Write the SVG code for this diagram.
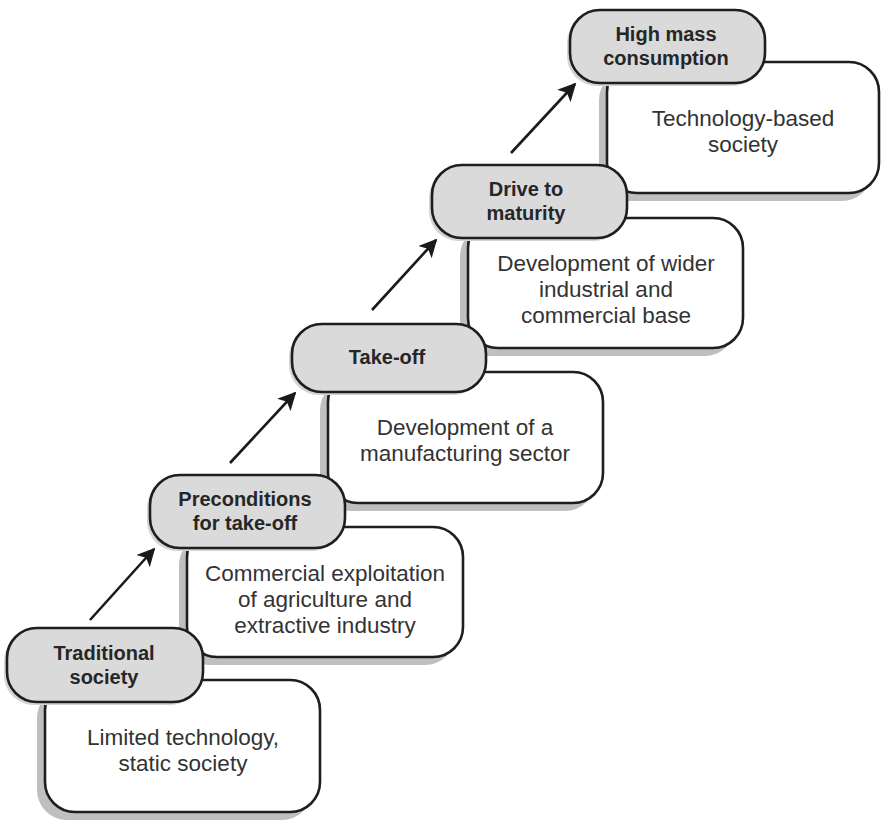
<svg xmlns="http://www.w3.org/2000/svg" width="881" height="820" viewBox="0 0 881 820">
  <style>
    .hdr { fill: #dadada; stroke: #1e1e1e; stroke-width: 2.6; }
    .hdr-sh { fill: #d4d4d4; }
    .desc { fill: #ffffff; stroke: #1e1e1e; stroke-width: 2.6; }
    .desc-sh { fill: #bfbfbf; }
    .ht { font-family: "Liberation Sans", Arial, sans-serif; font-weight: bold; font-size: 20px; fill: #262626; text-anchor: middle; }
    .dt { font-family: "Liberation Sans", Arial, sans-serif; font-size: 22.5px; fill: #333333; text-anchor: middle; }
    .arrow { stroke: #1a1a1a; stroke-width: 2.6; fill: none; }
  </style>
  <defs>
    <marker id="head" viewBox="0 0 10 10" refX="9" refY="5" markerWidth="7" markerHeight="7" markerUnits="strokeWidth" orient="auto">
      <path d="M0,0 L10,5 L0,10 L2.5,5 Z" fill="#1a1a1a"/>
    </marker>
  </defs>
  <rect width="881" height="820" fill="#ffffff"/>

  <!-- Stage 5 -->
  <g id="stage-high-mass-consumption">
    <rect class="desc-sh" x="599" y="70" width="273" height="131" rx="30"/>
    <rect class="desc" x="607" y="62" width="272" height="131" rx="30"/>
    <text class="dt" x="743" y="126">Technology-based<tspan x="743" dy="26">society</tspan></text>
    <rect class="hdr-sh" x="567" y="13" width="195" height="73" rx="30"/>
    <rect class="hdr" x="570" y="10" width="195" height="73" rx="30"/>
    <text class="ht" x="666" y="41">High mass<tspan x="666" dy="24">consumption</tspan></text>
  </g>

  <!-- Stage 4 -->
  <g id="stage-drive-to-maturity">
    <rect class="desc-sh" x="460" y="226" width="275" height="130" rx="30"/>
    <rect class="desc" x="468" y="218" width="275" height="130" rx="30"/>
    <text class="dt" x="606" y="271">Development of wider<tspan x="606" dy="26">industrial and</tspan><tspan x="606" dy="26">commercial base</tspan></text>
    <rect class="hdr-sh" x="429" y="168" width="195" height="73" rx="30"/>
    <rect class="hdr" x="432" y="165" width="195" height="73" rx="30"/>
    <text class="ht" x="526" y="196">Drive to<tspan x="526" dy="24">maturity</tspan></text>
  </g>

  <!-- Stage 3 -->
  <g id="stage-take-off">
    <rect class="desc-sh" x="320" y="380" width="275" height="131" rx="30"/>
    <rect class="desc" x="328" y="372" width="275" height="131" rx="30"/>
    <text class="dt" x="465" y="435">Development of a<tspan x="465" dy="26">manufacturing sector</tspan></text>
    <rect class="hdr-sh" x="289" y="327" width="194" height="68" rx="30"/>
    <rect class="hdr" x="292" y="324" width="194" height="68" rx="30"/>
    <text class="ht" x="387" y="364">Take-off</text>
  </g>

  <!-- Stage 2 -->
  <g id="stage-preconditions">
    <rect class="desc-sh" x="179" y="535" width="276" height="130" rx="30"/>
    <rect class="desc" x="187" y="527" width="276" height="130" rx="30"/>
    <text class="dt" x="325" y="581">Commercial exploitation<tspan x="325" dy="26">of agriculture and</tspan><tspan x="325" dy="26">extractive industry</tspan></text>
    <rect class="hdr-sh" x="147" y="478" width="195" height="73" rx="30"/>
    <rect class="hdr" x="150" y="475" width="195" height="73" rx="30"/>
    <text class="ht" x="245" y="506">Preconditions<tspan x="245" dy="24">for take-off</tspan></text>
  </g>

  <!-- Stage 1 -->
  <g id="stage-traditional">
    <rect class="desc-sh" x="37" y="688" width="275" height="132" rx="30"/>
    <rect class="desc" x="45" y="680" width="275" height="132" rx="30"/>
    <text class="dt" x="183" y="745">Limited technology,<tspan x="183" dy="26">static society</tspan></text>
    <rect class="hdr-sh" x="4" y="631" width="196" height="74" rx="30"/>
    <rect class="hdr" x="7" y="628" width="196" height="74" rx="30"/>
    <text class="ht" x="104" y="660">Traditional<tspan x="104" dy="24">society</tspan></text>
  </g>

  <!-- Arrows between stages -->
  <g id="connectors">
    <line class="arrow" x1="90" y1="620" x2="154" y2="549" marker-end="url(#head)"/>
    <line class="arrow" x1="230" y1="463" x2="295" y2="393" marker-end="url(#head)"/>
    <line class="arrow" x1="372" y1="310" x2="436" y2="240" marker-end="url(#head)"/>
    <line class="arrow" x1="511" y1="153" x2="575" y2="84" marker-end="url(#head)"/>
  </g>
</svg>
